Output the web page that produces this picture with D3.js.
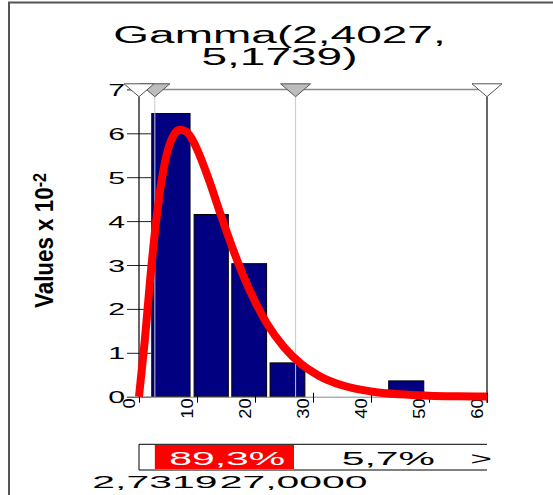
<!DOCTYPE html>
<html>
<head>
<meta charset="utf-8">
<script src="https://cdn.jsdelivr.net/npm/d3@7"></script>
<style>
  body { margin: 0; background: #fff; }
  text { font-family: Arial, "Liberation Sans", sans-serif; }
</style>
</head>
<body>
<div id="chart"></div>
<script>
// histogram bars (x units, value x 10^-2)
const binLo = [2.2, 9.5, 16.0, 22.6, 43.05];
const binHi = [8.8, 15.4, 22.0, 28.6, 49.1];
const binVal = [6.45, 4.15, 3.03, 0.77, 0.36];

// fitted density
const fitX = [0, 1, 2, 3, 4, 5, 6, 7, 8, 9, 10, 12, 14, 16, 18, 20, 22, 25, 28, 31, 35, 40, 45, 50, 55, 60];
const fitY = [0, 1.28, 2.78, 4.05, 5.0, 5.63, 5.96, 6.08, 6.05, 5.9, 5.64, 4.96, 4.18, 3.43, 2.75, 2.17, 1.68, 1.13, 0.74, 0.48, 0.26, 0.12, 0.054, 0.023, 0.01, 0.004];

const xTicks = [0, 10, 20, 30, 40, 50, 60];
const yTicks = [0, 1, 2, 3, 4, 5, 6, 7];

// delimiters and their labels
const delimX = [2.7319, 27.0];
const delimLabels = ["2,7319", "27,0000"];
const endX = [0, 60];
const pctMid = "89,3%";
const pctRight = "5,7%";

const titleLines = ["Gamma(2,4027,", "5,1739)"];
const yTitle = "Values x 10";
const yTitleExp = "-2";

const svgWidth = 553;
const svgHeight = 495;

const svg = d3.select("#chart")
    .append("svg")
    .attr("width", svgWidth)
    .attr("height", svgHeight);

const x = d3.scaleLinear().domain([0, 60]).range([139, 487]);
const y = d3.scaleLinear().domain([0, 7]).range([396.7, 89.4]);

// stretched text, like the original metafile fonts
function wideText(parent, str, tx, ty, size, sx, anchor) {
    return parent.append("text")
        .attr("transform", `translate(${tx},${ty}) scale(${sx},1)`)
        .attr("text-anchor", anchor)
        .attr("font-size", size)
        .text(str);
}

// outer frame (top + left only)
svg.append("path")
    .attr("d", "M9,495 V2.5 H553")
    .attr("fill", "none")
    .attr("stroke", "#555")
    .attr("stroke-width", 2);

// title
wideText(svg, titleLines[0], 279.5, 43, 23, 2.0, "middle");
wideText(svg, titleLines[1], 279.5, 65.3, 23, 2.0, "middle");

// y title
const yt = svg.append("text")
    .attr("transform", "translate(53,240.5) rotate(-90)")
    .attr("text-anchor", "middle")
    .attr("font-size", 25)
    .attr("font-weight", "bold")
    .attr("textLength", 135)
    .attr("lengthAdjust", "spacingAndGlyphs");
yt.append("tspan").text(yTitle);
yt.append("tspan").attr("dy", -7).attr("font-size", 18).text(yTitleExp);

// bars
svg.append("g")
    .selectAll("rect")
    .data(binVal)
    .enter()
    .append("rect")
    .attr("x", (d, i) => x(binLo[i]))
    .attr("y", d => y(d))
    .attr("width", (d, i) => x(binHi[i]) - x(binLo[i]))
    .attr("height", d => y(0) - y(d))
    .attr("fill", "#000080")
    .attr("stroke", "#000")
    .attr("stroke-width", 1);

// y axis
const yAxis = svg.append("g")
    .attr("transform", `translate(${x(0)},0)`)
    .call(d3.axisLeft(y).tickValues(yTicks).tickSize(12).tickSizeOuter(0));
yAxis.select(".domain").remove();
yAxis.selectAll(".tick line").attr("x1", 12).attr("stroke", "#222");
yAxis.selectAll(".tick text").remove();
yAxis.selectAll(".tick").each(function(d) {
    wideText(d3.select(this), String(d), -14, 6, 16.8, 1.8, "end")
        .attr("fill", "#000");
});

// x axis
const xAxis = svg.append("g")
    .attr("transform", `translate(0,${y(0)})`)
    .call(d3.axisBottom(x).tickValues(xTicks).tickSize(6).tickSizeOuter(0));
xAxis.select(".domain").attr("stroke", "#888");
xAxis.selectAll(".tick line").attr("y1", -4).attr("stroke", "#000");
xAxis.selectAll(".tick text")
    .attr("x", 0).attr("y", 0).attr("dy", 0)
    .attr("transform", "translate(-5,1.5) rotate(-90) scale(1.15,1)")
    .attr("text-anchor", "end")
    .attr("font-size", 16)
    .attr("font-family", null)
    .attr("fill", "#000");

// delimiter lines
svg.append("g")
    .selectAll("line")
    .data(delimX)
    .enter()
    .append("line")
    .attr("x1", d => x(d)).attr("x2", d => x(d))
    .attr("y1", 96.7).attr("y2", y(0))
    .attr("stroke", "#c8c8c8")
    .attr("stroke-width", 1);

// side lines
svg.append("g")
    .selectAll("line")
    .data(endX)
    .enter()
    .append("line")
    .attr("x1", d => x(d)).attr("x2", d => x(d))
    .attr("y1", 96.7).attr("y2", d => d === 0 ? y(0) : y(0) + 6)
    .attr("stroke", "#000")
    .attr("stroke-width", 1.2);

// fitted curve
const line = d3.line()
    .x((d, i) => x(fitX[i]))
    .y(d => y(d))
    .curve(d3.curveMonotoneX);

svg.append("path")
    .datum(fitY)
    .attr("d", line)
    .attr("fill", "none")
    .attr("stroke", "#ff0000")
    .attr("stroke-width", 8)
    .attr("stroke-linejoin", "round");

// top line
svg.append("line")
    .attr("x1", x(0)).attr("x2", x(60))
    .attr("y1", y(7)).attr("y2", y(7))
    .attr("stroke", "#888")
    .attr("stroke-width", 1.5);

// triangles
function tri(d) {
    const cx = x(d);
    return `M${cx - 15},83.8 L${cx + 15},83.8 L${cx},96.7 Z`;
}
svg.append("g")
    .selectAll("path")
    .data(delimX)
    .enter()
    .append("path")
    .attr("d", tri)
    .attr("fill", "#bdbdbd")
    .attr("stroke", "#555")
    .attr("stroke-width", 1);
svg.append("g")
    .selectAll("path")
    .data(endX)
    .enter()
    .append("path")
    .attr("d", tri)
    .attr("fill", "#fff")
    .attr("stroke", "#555")
    .attr("stroke-width", 1);

// percentage band
const band = svg.append("g");
band.append("rect")
    .attr("x", x(delimX[0]))
    .attr("y", 445)
    .attr("width", x(delimX[1]) - x(delimX[0]) - 1.6)
    .attr("height", 24)
    .attr("fill", "#ff0000");
band.append("path")
    .attr("d", `M${x(60)},444.3 H${x(0)} V470 H${x(60)}`)
    .attr("fill", "none")
    .attr("stroke", "#000")
    .attr("stroke-width", 1);

wideText(band, pctMid, (x(delimX[0]) + x(delimX[1])) / 2 + 2, 465, 18.6, 2.2, "middle")
    .attr("fill", "#fff");
wideText(band, pctRight, (x(delimX[1]) + x(60)) / 2 - 3, 465, 18.6, 2.2, "middle");
wideText(band, ">", 481, 465, 18.6, 2.0, "middle");

// delimiter values
delimX.forEach((d, i) => {
    wideText(svg, delimLabels[i], x(d) + (i === 0 ? 0 : -2), 488.3, 17.2, 2.38, "middle");
});
</script>
</body>
</html>
